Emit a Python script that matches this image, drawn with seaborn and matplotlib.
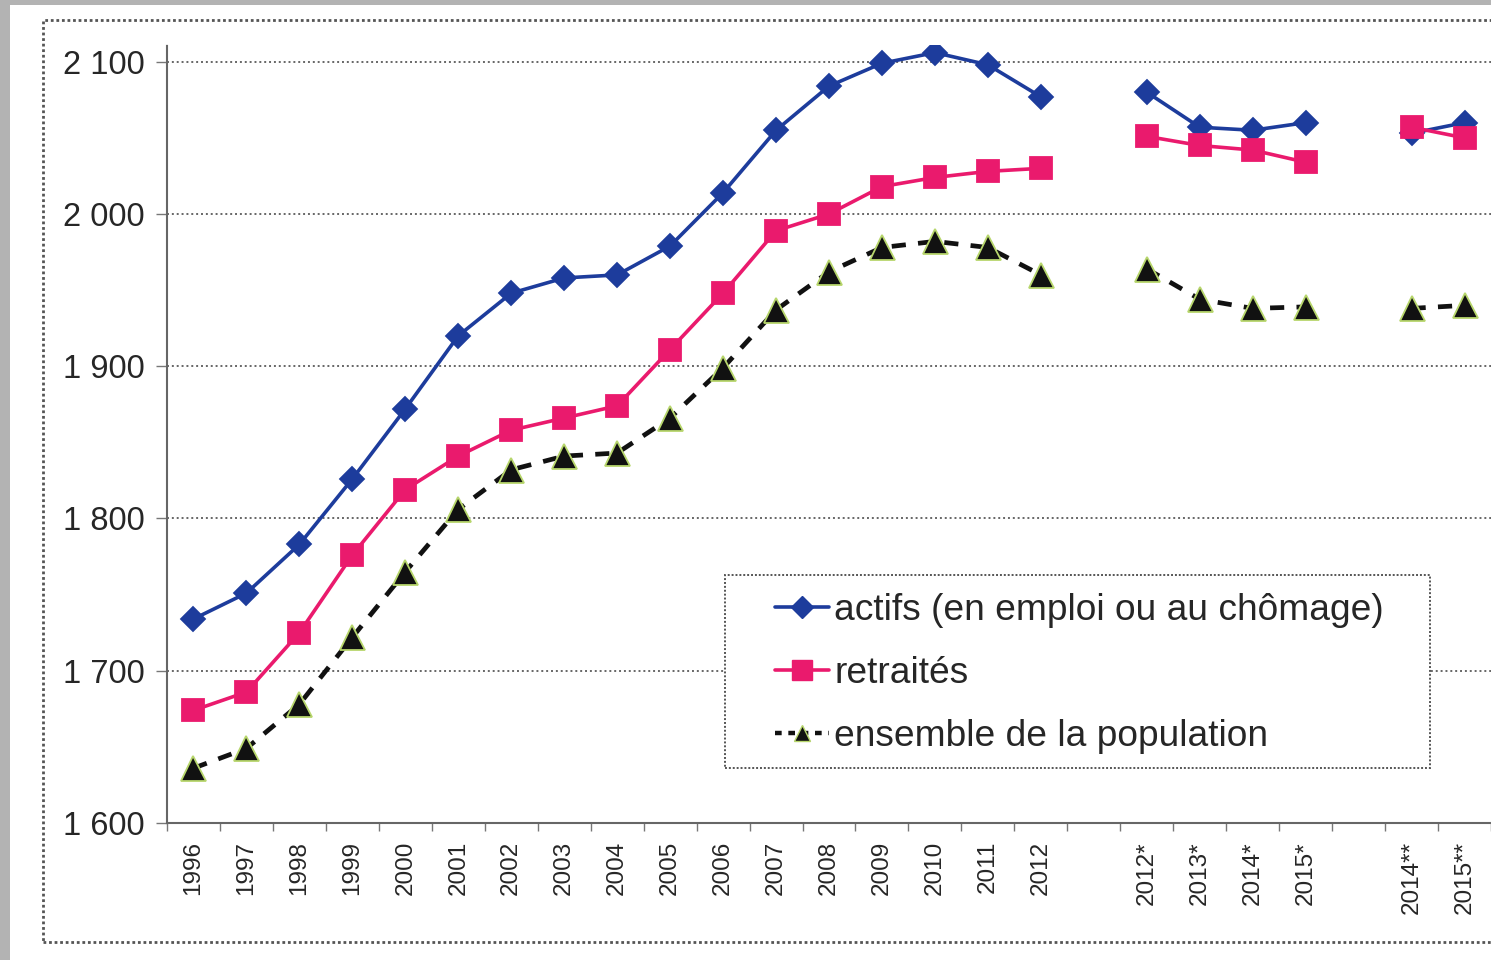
import numpy as np
import pandas as pd
import seaborn as sns
import matplotlib.pyplot as plt
from matplotlib.patches import Rectangle
from matplotlib.lines import Line2D
from matplotlib.ticker import FuncFormatter, MultipleLocator

# categories ('' = empty slot between the three groups)
annees = ['1996', '1997', '1998', '1999', '2000', '2001', '2002', '2003', '2004',
          '2005', '2006', '2007', '2008', '2009', '2010', '2011', '2012', '',
          '2012*', '2013*', '2014*', '2015*', '', '2014**', '2015**']
nan = np.nan
actifs = [1734, 1751, 1783, 1826, 1872, 1920, 1948, 1958, 1960, 1979, 2014, 2055,
          2084, 2099, 2106, 2098, 2077, nan, 2080, 2057, 2055, 2060, nan, 2053, 2060]
retraites = [1674, 1686, 1725, 1776, 1819, 1841, 1858, 1866, 1874, 1911, 1948, 1989,
             2000, 2018, 2024, 2028, 2030, nan, 2051, 2045, 2042, 2034, nan, 2057, 2050]
ensemble = [1636, 1649, 1678, 1722, 1765, 1806, 1832, 1841, 1843, 1866, 1899, 1937,
            1962, 1978, 1982, 1978, 1960, nan, 1964, 1944, 1938, 1939, nan, 1938, 1940]

noms = ['actifs (en emploi ou au chômage)', 'retraités', 'ensemble de la population']

# long table, one segment per group so the lines break at the empty slots
rows = []
for nom, vals in zip(noms, [actifs, retraites, ensemble]):
    seg = 0
    for i, v in enumerate(vals):
        if np.isnan(v):
            seg += 1
            continue
        rows.append({'x': i, 'valeur': v, 'serie': nom, 'segment': seg})
df = pd.DataFrame(rows)

sns.set_style('white')
plt.rcParams['font.family'] = ['Liberation Sans', 'DejaVu Sans']

W, H = 1491, 960
fig = plt.figure(figsize=(W / 100, H / 100), dpi=100, facecolor='#b3b3b3')
# white scanned page + dotted outer frame
fig.patches.append(Rectangle((10 / W, 0), 1, 955 / H, transform=fig.transFigure,
                             facecolor='white', edgecolor='none', zorder=-2))
fig.patches.append(Rectangle((43 / W, 18 / H), 1.0, 922 / H,
                             transform=fig.transFigure, facecolor='none',
                             edgecolor='#555555', linestyle=(0, (1, 1)), lw=2, zorder=-1))

ax = fig.add_axes([167 / W, 137 / H, 1 - 167 / W, 778 / H])
ax.set_facecolor('none')

couleurs = {noms[0]: '#1d3c9c', noms[1]: '#ea1a6d', noms[2]: '#111111'}
marqueurs = {noms[0]: 'D', noms[1]: 's', noms[2]: '^'}
tailles = {noms[0]: 12, noms[1]: 16, noms[2]: 18}

for nom in noms:
    sub = df[df['serie'] == nom]
    pointille = nom == noms[2]
    sns.lineplot(data=sub, x='x', y='valeur', units='segment', estimator=None,
                 color=couleurs[nom], ax=ax, lw=3.4 if pointille else 2.6,
                 marker=marqueurs[nom], markersize=tailles[nom],
                 linestyle=(0, (3, 2.6)) if pointille else '-',
                 markeredgecolor='#b7d66c' if pointille else couleurs[nom],
                 markeredgewidth=1.3, legend=False, zorder=3)

ax.set_xlim(-0.5, 24.42)
ax.set_ylim(1600, 2111)
ax.set_xlabel('')
ax.set_ylabel('')

ax.set_xticks(range(len(annees)))
ax.set_xticklabels(annees, rotation=90, fontsize=17.5)
ax.set_xticks(np.arange(-0.5, len(annees), 1), minor=True)
ax.tick_params(axis='x', which='major', length=0, pad=13)
ax.tick_params(axis='x', which='minor', length=6, width=1, color='#777777', direction='out',
               bottom=True)

ax.yaxis.set_major_locator(MultipleLocator(100))
ax.yaxis.set_major_formatter(FuncFormatter(lambda v, p: f'{int(v):,}'.replace(',', ' ')))
ax.tick_params(axis='y', labelsize=23.5, length=8, width=1, color='#777777',
               direction='out', pad=8, left=True)

for y in range(1700, 2101, 100):
    ax.axhline(y, color='#666666', lw=1.4, linestyle=(0, (1, 1.5)), zorder=1)

for s in ['top', 'right']:
    ax.spines[s].set_visible(False)
for s in ['left', 'bottom']:
    ax.spines[s].set_color('#666666')
    ax.spines[s].set_linewidth(1.5)
    ax.spines[s].set_linestyle((0, (1, 1)))

# legend (frame drawn separately to keep the wide Excel padding)
handles = [Line2D([], [], color=couleurs[n], lw=3.2 if n == noms[2] else 2.6,
                  linestyle=(0, (1.5, 1.5)) if n == noms[2] else '-',
                  marker=marqueurs[n],
                  markersize={'D': 11, 's': 15, '^': 12}[marqueurs[n]],
                  markeredgecolor='#b7d66c' if n == noms[2] else couleurs[n])
           for n in noms]
leg = fig.legend(handles, noms, loc='upper left',
                 bbox_to_anchor=(775 / W, 1 - 593 / H),
                 frameon=False, fontsize=26.7, handlelength=1.45,
                 handletextpad=0.15, labelspacing=0.76, borderpad=0, borderaxespad=0)
fig.patches.append(Rectangle((725 / W, (H - 768) / H), 705 / W, 193 / H,
                             transform=fig.transFigure, facecolor='white',
                             edgecolor='#555555', linestyle=(0, (1, 1)), lw=1.4, zorder=2))
leg.set_zorder(5)

fig.savefig('out.png', dpi=100, facecolor=fig.get_facecolor())
